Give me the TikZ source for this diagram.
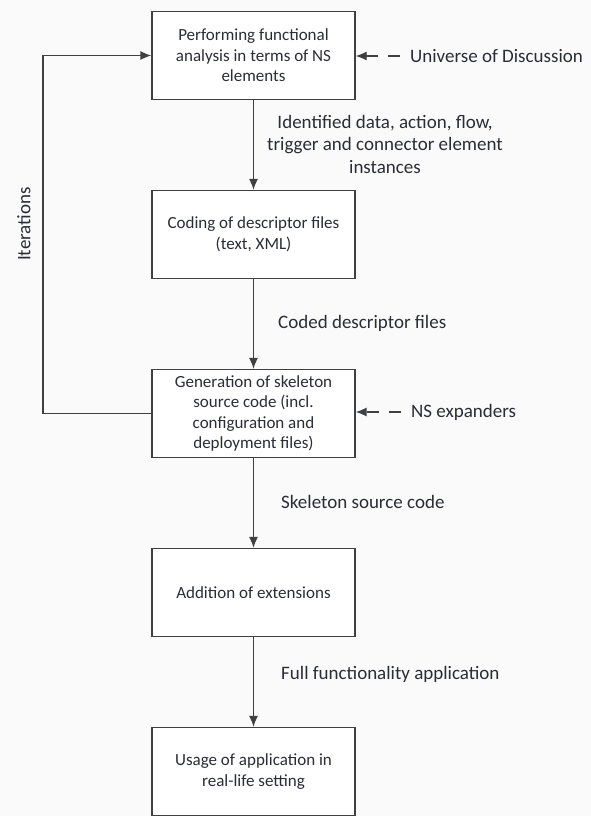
\documentclass[tikz,border=0pt]{standalone}
\usepackage{fontspec}
\setmainfont{Carlito}
\usetikzlibrary{arrows.meta}
\definecolor{bg}{HTML}{FAFAFA}
\definecolor{ln}{HTML}{3F4042}
\definecolor{tx}{HTML}{2B2D35}
\tikzset{
  box/.style={draw=ln, line width=1.3pt, fill=white, minimum width=203pt, minimum height=88pt, align=center, text=tx, font=\fontsize{17}{20.5}\selectfont, inner sep=2pt},
  lbl/.style={text=tx, font=\fontsize{19}{22.5}\selectfont, inner sep=0pt},
  arr/.style={draw=ln, line width=1.3pt, -{Latex[length=11pt,width=9pt]}},
  dasharr/.style={arr, dash pattern=on 12pt off 10pt, shorten <=10pt}
}
\begin{document}
\begin{tikzpicture}[x=1pt,y=-1pt]
\fill[bg] (0,0) rectangle (591,816);
\useasboundingbox (0,0) rectangle (591,816);

\node[box] (b1) at (253.5,55.5) {Performing functional\\analysis in terms of NS\\elements};
\node[box] (b2) at (253.5,234.5) {Coding of descriptor files\\(text, XML)};
\node[box] (b3) at (253.5,413.5) {Generation of skeleton\\source code (incl.\\configuration and\\deployment files)};
\node[box] (b4) at (253.5,592.5) {Addition of extensions};
\node[box] (b5) at (253.5,771.5) {Usage of application in\\real-life setting};

\draw[arr] (b1) -- (b2);
\draw[arr] (b2) -- (b3);
\draw[arr] (b3) -- (b4);
\draw[arr] (b4) -- (b5);

\node[lbl, align=center] (l1) at (385,144) {Identified data, action, flow,\\trigger and connector element\\instances};
\node[lbl, anchor=west] (l2) at (278,323) {Coded descriptor files};
\node[lbl, anchor=west] (l3) at (281,502) {Skeleton source code};
\node[lbl, anchor=west] (l4) at (281,674) {Full functionality application};

\node[lbl, anchor=west] (u) at (410,56) {Universe of Discussion};
\node[lbl, anchor=west] (ns) at (411,412) {NS expanders};
\draw[dasharr] (u.west) -- (b1.east |- u.west);
\draw[dasharr] (ns.west) -- (b3.east |- ns.west);

\coordinate (lp) at (43,0);
\draw[arr] (b3.west) -- (b3.west -| lp) -- (b1.west -| lp) -- (b1.west);
\node[lbl, rotate=90] (it) at (24,224) {Iterations};
\end{tikzpicture}
\end{document}
